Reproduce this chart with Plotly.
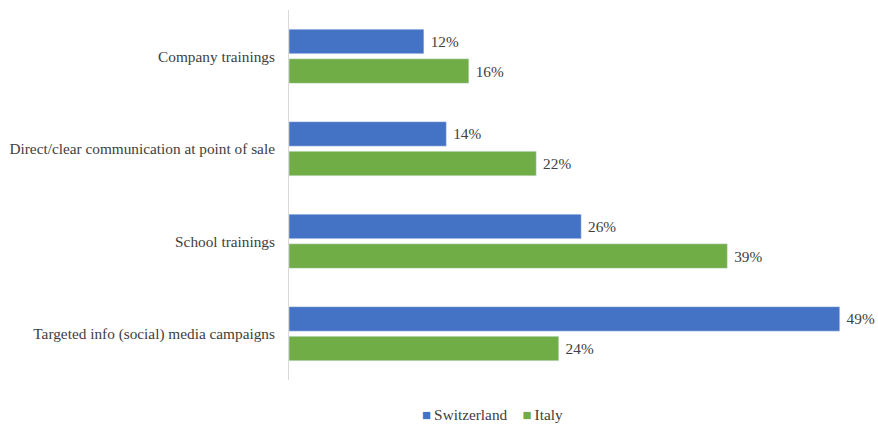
import plotly.graph_objects as go

categories = [
    "Company trainings",
    "Direct/clear communication at point of sale",
    "School trainings",
    "Targeted info (social) media campaigns",
]
switzerland = [12, 14, 26, 49]
italy = [16, 22, 39, 24]
series_names = ["Switzerland", "Italy"]
series_colors = ["#4472C4", "#70AD47"]

font_family = "Liberation Serif, Times New Roman, serif"
text_color = "#404040"
fsize = 15.3

fig = go.Figure()
for name, values, color in zip(series_names, [switzerland, italy], series_colors):
    fig.add_trace(go.Bar(
        name=name, y=categories, x=values, orientation="h",
        marker=dict(color=color),
        text=[f"\u00a0{v}%" for v in values], textposition="outside",
        textfont=dict(family=font_family, size=fsize, color=text_color),
        cliponaxis=False, showlegend=False,
    ))

# Legend drawn as a single centred line of coloured squares and names
legend_text = "\u2003".join(
    f"<span style='color:{c};font-size:15px'>\u25A0</span>\u2009{n}"
    for n, c in zip(series_names, series_colors)
)
fig.add_annotation(
    text=legend_text, xref="paper", yref="paper",
    x=(492 - 289) / 562.0, y=-(414 - 380) / 370.0,
    xanchor="center", yanchor="middle", showarrow=False,
    font=dict(family=font_family, size=fsize, color=text_color),
)

fig.update_layout(
    width=878, height=425,
    margin=dict(l=289, r=27, t=10, b=45),
    paper_bgcolor="white", plot_bgcolor="white",
    barmode="group", bargap=0.36, bargroupgap=0.17,
    font=dict(family=font_family, size=fsize, color=text_color),
    xaxis=dict(range=[0, 50], visible=False),
    yaxis=dict(
        autorange="reversed", showline=True, linecolor="#d9d9d9", linewidth=1,
        showgrid=False, ticks="", ticklabelstandoff=10, automargin=False,
        tickfont=dict(family=font_family, size=fsize, color=text_color),
    ),
)

fig.write_html("out.html")
